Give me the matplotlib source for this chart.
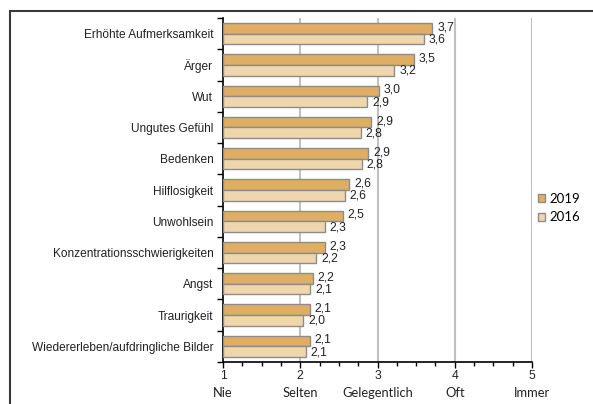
import numpy as np
import matplotlib
matplotlib.use('Agg')
import matplotlib.pyplot as plt
from matplotlib.ticker import MultipleLocator, FixedLocator

plt.rcParams['font.family'] = ['Liberation Sans', 'DejaVu Sans']

categories = ['Erhöhte Aufmerksamkeit', 'Ärger', 'Wut', 'Ungutes Gefühl', 'Bedenken',
              'Hilflosigkeit', 'Unwohlsein', 'Konzentrationsschwierigkeiten', 'Angst',
              'Traurigkeit', 'Wiedererleben/aufdringliche Bilder']
vals_2019 = [3.71, 3.47, 3.02, 2.92, 2.88, 2.635, 2.55, 2.32, 2.16, 2.12, 2.12]
vals_2016 = [3.60, 3.22, 2.87, 2.78, 2.80, 2.58, 2.32, 2.21, 2.13, 2.04, 2.07]
labels_2019 = ['3,7', '3,5', '3,0', '2,9', '2,9', '2,6', '2,5', '2,3', '2,2', '2,1', '2,1']
labels_2016 = ['3,6', '3,2', '2,9', '2,8', '2,8', '2,6', '2,3', '2,2', '2,1', '2,0', '2,1']
scale_ticks = [1, 2, 3, 4, 5]
scale_names = ['Nie', 'Selten', 'Gelegentlich', 'Oft', 'Immer']

c2019 = '#E0AE63'
c2016 = '#EFD6AC'
calibri_like = ['Lato', 'DejaVu Sans']

fig = plt.figure(figsize=(5.93, 4.04), dpi=100)
ax = fig.add_axes([223 / 593, 1 - 362 / 404, (532 - 223) / 593, (362 - 18) / 404])

# outer frame (left and top edge visible, rest cut off)
fig.patches.append(plt.Rectangle((10 / 593, -0.1), 1.2, (1 - 10.5 / 404) + 0.1,
                                 transform=fig.transFigure, fill=False,
                                 edgecolor='#3a3a3a', linewidth=1.5, zorder=0))

y = np.arange(len(categories))
h = 0.34
ax.barh(y - h / 2, np.array(vals_2019) - 1, height=h, left=1, color=c2019,
        edgecolor='#8c8c8c', linewidth=1, label='2019', zorder=3)
ax.barh(y + h / 2, np.array(vals_2016) - 1, height=h, left=1, color=c2016,
        edgecolor='#8c8c8c', linewidth=1, label='2016', zorder=3)

for i in range(len(categories)):
    ax.annotate(labels_2019[i], (vals_2019[i], y[i] - h * 0.6), xytext=(3.5, 0),
                textcoords='offset points', va='center', ha='left', fontsize=8.7, color='#222')
    ax.annotate(labels_2016[i], (vals_2016[i], y[i] + h * 0.55), xytext=(3.5, 0),
                textcoords='offset points', va='center', ha='left', fontsize=8.7, color='#222')

ax.set_xlim(1, 5)
ax.set_ylim(len(categories) - 0.5, -0.5)

ax.set_yticks(y)
ax.set_yticklabels(categories, fontsize=8.6, color='#222')
ax.tick_params(axis='y', which='major', length=0, pad=7)
ax.yaxis.set_minor_locator(FixedLocator(np.arange(-0.5, len(categories), 1)))
ax.tick_params(axis='y', which='minor', length=4, width=1, direction='out')

ax.set_xticks(scale_ticks)
ax.set_xticklabels([str(t) for t in scale_ticks], fontsize=8.7, color='#222')
ax.xaxis.set_minor_locator(MultipleLocator(0.25))
ax.tick_params(axis='x', which='major', length=4, width=1, pad=2)
ax.tick_params(axis='x', which='minor', length=3, width=1)

for t in scale_ticks[1:]:
    ax.axvline(t, color='#c0c0c0', linewidth=1.5, zorder=1)

for t, name in zip(scale_ticks, scale_names):
    ax.text(t, -0.09, name, transform=ax.get_xaxis_transform(), ha='center', va='center',
            fontsize=9.3, family=calibri_like, color='#222')

for s in ['top', 'right']:
    ax.spines[s].set_visible(False)
ax.spines['left'].set_linewidth(1.2)
ax.spines['bottom'].set_linewidth(1.2)

leg = ax.legend(loc='center left', bbox_to_anchor=(531 / 593, 1 - 208 / 404),
                bbox_transform=fig.transFigure, frameon=False, borderpad=0,
                prop={'family': calibri_like, 'size': 9.5},
                handlelength=0.55, handleheight=0.55, handletextpad=0.35, labelspacing=0.5)

fig.savefig('out.png', dpi=100)
